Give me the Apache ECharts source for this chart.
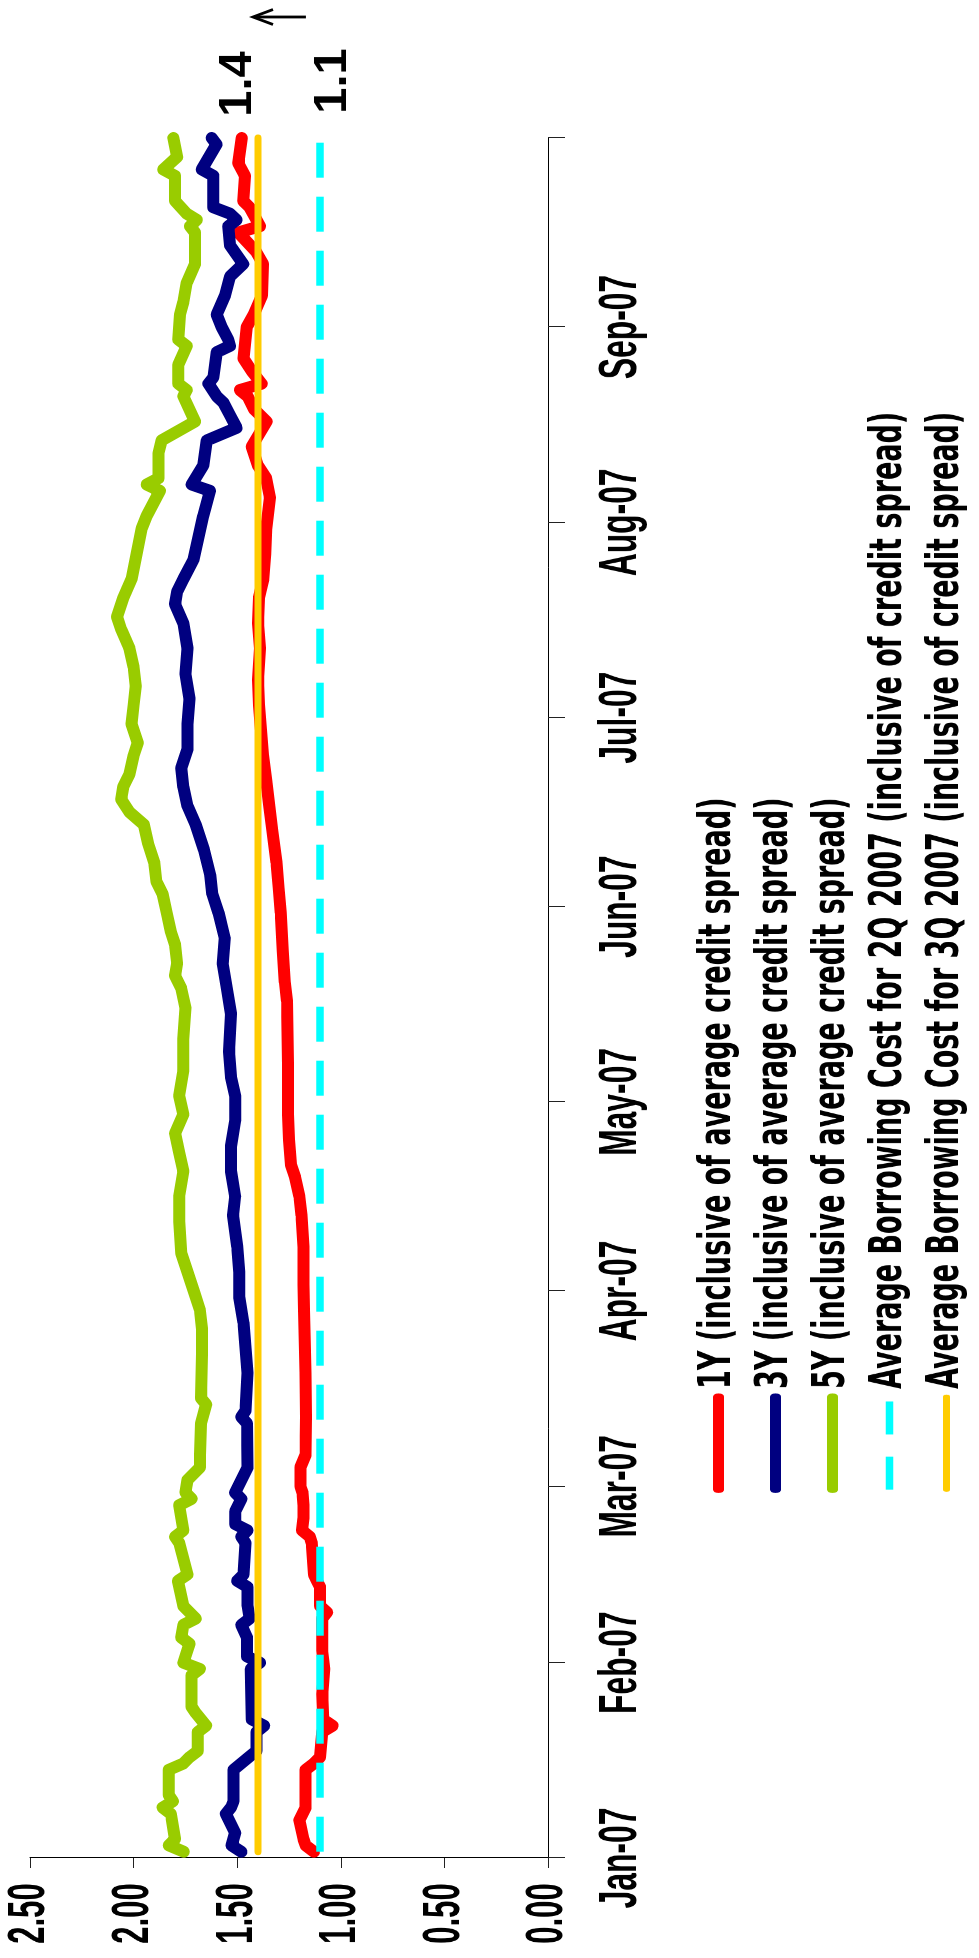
<!DOCTYPE html>
<html>
<head>
<meta charset="utf-8">
<script src="https://cdn.jsdelivr.net/npm/echarts@6/dist/echarts.min.js"></script>
<style>
  html, body { margin: 0; padding: 0; background: #fff; width: 979px; height: 1958px; overflow: hidden; }
  /* Both layers are laid out landscape and turned a quarter turn counter-clockwise.
     The text layer is laid out wider and squeezed back, which gives its narrow lettering. */
  .layer { position: absolute; left: 0; top: 0; height: 979px; transform-origin: 0 0; }
  #plot { width: 1958px; transform: translate(0, 1958px) rotate(-90deg); }
  #text { width: 3264px; transform: translate(0, 1958px) rotate(-90deg) scaleX(0.59988); }
</style>
</head>
<body>
<div id="plot" class="layer"></div>
<div id="text" class="layer"></div>
<script>
// ---- data ----
const monthLabels = ['Jan-07', 'Feb-07', 'Mar-07', 'Apr-07', 'May-07', 'Jun-07', 'Jul-07', 'Aug-07', 'Sep-07'];
const axisStart = '2007-01-01';
const axisEnd = '2007-10-01';
const valueMin = 0, valueMax = 2.5, valueStep = 0.5;

const seriesNames = [
  '1Y (inclusive of average credit spread)',
  '3Y (inclusive of average credit spread)',
  '5Y (inclusive of average credit spread)',
  'Average Borrowing Cost for 2Q 2007 (inclusive of credit spread)',
  'Average Borrowing Cost for 3Q 2007 (inclusive of credit spread)'
];

const rate1Y = [
  ['2007-01-02', 1.13], ['2007-01-03', 1.17], ['2007-01-04', 1.18], ['2007-01-07', 1.20], ['2007-01-09', 1.17],
  ['2007-01-15', 1.17], ['2007-01-16', 1.13], ['2007-01-17', 1.10], ['2007-01-21', 1.09], ['2007-01-22', 1.04],
  ['2007-01-23', 1.085], ['2007-01-27', 1.09], ['2007-01-31', 1.08], ['2007-02-03', 1.09], ['2007-02-08', 1.09],
  ['2007-02-09', 1.066], ['2007-02-10', 1.10], ['2007-02-13', 1.10], ['2007-02-14', 1.115], ['2007-02-15', 1.13],
  ['2007-02-20', 1.14], ['2007-02-21', 1.15], ['2007-02-22', 1.187], ['2007-02-24', 1.18], ['2007-02-26', 1.18],
  ['2007-02-28', 1.185], ['2007-03-01', 1.195], ['2007-03-04', 1.195], ['2007-03-06', 1.17], ['2007-03-12', 1.168],
  ['2007-03-19', 1.17], ['2007-03-29', 1.178], ['2007-04-02', 1.18], ['2007-04-08', 1.18], ['2007-04-13', 1.19],
  ['2007-04-16', 1.20], ['2007-04-19', 1.22], ['2007-04-21', 1.24], ['2007-04-25', 1.25], ['2007-04-29', 1.255],
  ['2007-05-07', 1.255], ['2007-05-17', 1.26], ['2007-05-20', 1.27], ['2007-05-25', 1.28], ['2007-05-31', 1.29],
  ['2007-06-04', 1.30], ['2007-06-08', 1.31], ['2007-06-13', 1.33], ['2007-06-17', 1.345], ['2007-06-21', 1.36],
  ['2007-06-25', 1.375], ['2007-06-29', 1.385], ['2007-07-03', 1.395], ['2007-07-07', 1.40], ['2007-07-12', 1.39],
  ['2007-07-16', 1.40], ['2007-07-20', 1.395], ['2007-07-23', 1.374], ['2007-07-27', 1.365], ['2007-07-31', 1.36],
  ['2007-08-05', 1.342], ['2007-08-08', 1.36], ['2007-08-10', 1.40], ['2007-08-13', 1.43], ['2007-08-17', 1.358],
  ['2007-08-19', 1.42], ['2007-08-21', 1.45], ['2007-08-22', 1.487], ['2007-08-23', 1.382], ['2007-08-25', 1.43],
  ['2007-08-27', 1.47], ['2007-09-01', 1.454], ['2007-09-03', 1.42], ['2007-09-06', 1.38], ['2007-09-11', 1.375],
  ['2007-09-13', 1.41], ['2007-09-16', 1.495], ['2007-09-17', 1.39], ['2007-09-20', 1.44], ['2007-09-21', 1.471],
  ['2007-09-25', 1.462], ['2007-09-27', 1.495], ['2007-10-01', 1.478]
];

const rate3Y = [
  ['2007-01-02', 1.48], ['2007-01-03', 1.527], ['2007-01-05', 1.51], ['2007-01-08', 1.555], ['2007-01-09', 1.53],
  ['2007-01-10', 1.518], ['2007-01-15', 1.518], ['2007-01-17', 1.444], ['2007-01-18', 1.407], ['2007-01-21', 1.407],
  ['2007-01-22', 1.37], ['2007-01-23', 1.43], ['2007-01-31', 1.435], ['2007-02-01', 1.39], ['2007-02-02', 1.453],
  ['2007-02-05', 1.453], ['2007-02-07', 1.48], ['2007-02-08', 1.44], ['2007-02-10', 1.45], ['2007-02-13', 1.45],
  ['2007-02-14', 1.50], ['2007-02-15', 1.47], ['2007-02-20', 1.46], ['2007-02-21', 1.48], ['2007-02-22', 1.45],
  ['2007-02-23', 1.51], ['2007-02-25', 1.51], ['2007-02-27', 1.48], ['2007-02-28', 1.51], ['2007-03-02', 1.48],
  ['2007-03-04', 1.45], ['2007-03-11', 1.453], ['2007-03-12', 1.48], ['2007-03-13', 1.46], ['2007-03-19', 1.45],
  ['2007-03-27', 1.47], ['2007-03-31', 1.49], ['2007-04-04', 1.49], ['2007-04-08', 1.50], ['2007-04-13', 1.52],
  ['2007-04-16', 1.51], ['2007-04-20', 1.53], ['2007-04-24', 1.53], ['2007-04-28', 1.51], ['2007-05-02', 1.51],
  ['2007-05-05', 1.53], ['2007-05-09', 1.54], ['2007-05-15', 1.53], ['2007-05-19', 1.55], ['2007-05-23', 1.57],
  ['2007-05-27', 1.56], ['2007-05-31', 1.59], ['2007-06-03', 1.62], ['2007-06-06', 1.63], ['2007-06-10', 1.66],
  ['2007-06-14', 1.70], ['2007-06-17', 1.74], ['2007-06-20', 1.76], ['2007-06-23', 1.77], ['2007-06-26', 1.74],
  ['2007-06-30', 1.74], ['2007-07-04', 1.73], ['2007-07-08', 1.75], ['2007-07-12', 1.74], ['2007-07-16', 1.76],
  ['2007-07-19', 1.80], ['2007-07-21', 1.79], ['2007-07-23', 1.76], ['2007-07-26', 1.712], ['2007-08-02', 1.664],
  ['2007-08-06', 1.631], ['2007-08-07', 1.72], ['2007-08-10', 1.664], ['2007-08-14', 1.647], ['2007-08-16', 1.503],
  ['2007-08-18', 1.535], ['2007-08-20', 1.567], ['2007-08-21', 1.599], ['2007-08-23', 1.639], ['2007-08-24', 1.615],
  ['2007-08-28', 1.599], ['2007-08-29', 1.535], ['2007-08-30', 1.543], ['2007-09-01', 1.575], ['2007-09-03', 1.599],
  ['2007-09-06', 1.559], ['2007-09-09', 1.535], ['2007-09-11', 1.471], ['2007-09-14', 1.535], ['2007-09-17', 1.543],
  ['2007-09-18', 1.503], ['2007-09-19', 1.535], ['2007-09-20', 1.615], ['2007-09-25', 1.615], ['2007-09-26', 1.671],
  ['2007-09-30', 1.60], ['2007-10-01', 1.623]
];

const rate5Y = [
  ['2007-01-02', 1.758], ['2007-01-03', 1.83], ['2007-01-04', 1.80], ['2007-01-08', 1.82], ['2007-01-09', 1.86],
  ['2007-01-10', 1.81], ['2007-01-11', 1.83], ['2007-01-15', 1.83], ['2007-01-16', 1.76], ['2007-01-17', 1.73],
  ['2007-01-18', 1.69], ['2007-01-21', 1.69], ['2007-01-22', 1.65], ['2007-01-24', 1.70], ['2007-01-25', 1.72],
  ['2007-01-30', 1.72], ['2007-01-31', 1.68], ['2007-02-01', 1.76], ['2007-02-04', 1.73], ['2007-02-05', 1.77],
  ['2007-02-07', 1.76], ['2007-02-08', 1.70], ['2007-02-10', 1.76], ['2007-02-14', 1.786], ['2007-02-15', 1.74],
  ['2007-02-20', 1.78], ['2007-02-21', 1.80], ['2007-02-22', 1.76], ['2007-02-26', 1.78], ['2007-02-27', 1.72],
  ['2007-02-28', 1.75], ['2007-03-02', 1.74], ['2007-03-04', 1.68], ['2007-03-06', 1.68], ['2007-03-11', 1.675],
  ['2007-03-14', 1.65], ['2007-03-15', 1.675], ['2007-03-22', 1.67], ['2007-03-26', 1.67], ['2007-03-29', 1.68],
  ['2007-04-01', 1.71], ['2007-04-04', 1.74], ['2007-04-07', 1.77], ['2007-04-12', 1.78], ['2007-04-16', 1.78],
  ['2007-04-20', 1.76], ['2007-04-23', 1.78], ['2007-04-26', 1.80], ['2007-04-29', 1.76], ['2007-05-02', 1.78],
  ['2007-05-06', 1.76], ['2007-05-11', 1.76], ['2007-05-16', 1.75], ['2007-05-19', 1.77], ['2007-05-21', 1.80],
  ['2007-05-23', 1.79], ['2007-05-26', 1.80], ['2007-05-28', 1.82], ['2007-05-31', 1.84], ['2007-06-03', 1.86],
  ['2007-06-05', 1.89], ['2007-06-08', 1.90], ['2007-06-11', 1.93], ['2007-06-14', 1.95], ['2007-06-16', 2.02],
  ['2007-06-18', 2.06], ['2007-06-20', 2.05], ['2007-06-22', 2.02], ['2007-06-25', 2.00], ['2007-06-27', 1.98],
  ['2007-06-30', 2.01], ['2007-07-03', 2.00], ['2007-07-06', 1.99], ['2007-07-09', 2.00], ['2007-07-12', 2.02],
  ['2007-07-15', 2.06], ['2007-07-17', 2.08], ['2007-07-20', 2.05], ['2007-07-23', 2.01], ['2007-07-27', 1.985],
  ['2007-07-31', 1.961], ['2007-08-02', 1.937], ['2007-08-06', 1.873], ['2007-08-07', 1.937], ['2007-08-08', 1.88],
  ['2007-08-12', 1.88], ['2007-08-14', 1.865], ['2007-08-17', 1.704], ['2007-08-21', 1.76], ['2007-08-22', 1.744],
  ['2007-08-23', 1.784], ['2007-08-26', 1.784], ['2007-08-29', 1.744], ['2007-08-30', 1.784], ['2007-09-03', 1.776],
  ['2007-09-05', 1.76], ['2007-09-08', 1.744], ['2007-09-11', 1.704], ['2007-09-16', 1.704], ['2007-09-17', 1.728],
  ['2007-09-18', 1.695], ['2007-09-19', 1.744], ['2007-09-21', 1.80], ['2007-09-25', 1.80], ['2007-09-26', 1.857],
  ['2007-09-28', 1.79], ['2007-10-01', 1.808]
];

const cost2Q = 1.1;
const cost3Q = 1.4;
const costSpan = ['2007-01-02', '2007-10-01'];

const colors = ['#FF0000', '#000080', '#99CC00', '#00FFFF', '#FFCC00'];

// ---- daily category axis ----
const days = [];
for (let t = Date.parse(axisStart + 'T00:00:00Z'); t <= Date.parse(axisEnd + 'T00:00:00Z'); t += 864e5) {
  days.push(new Date(t).toISOString().slice(0, 10));
}
const isMonthStart = (i, v) => v.slice(8) === '01';
const fontFamily = '"Liberation Sans", Arial, sans-serif';
const legendFont = '"DejaVu Sans", "Liberation Sans", sans-serif';

// landscape layout of the plot area (unsqueezed pixels)
const plotW = 1958, plotLeft = 100, plotRight = 138, plotTop = 30, plotBottom = 431;
const squeeze = 1958 / 3264;   // horizontal squeeze of the text layer

// ---- plot layer: axes lines, ticks and the five series ----
function lineSeries(i, data, width, dash) {
  return {
    name: seriesNames[i], type: 'line', data, symbol: 'none', showSymbol: false, silent: true,
    lineStyle: { color: colors[i], width, type: dash || 'solid', cap: dash ? 'butt' : 'round', join: 'round' },
    itemStyle: { color: colors[i] }
  };
}

const plot = echarts.init(document.getElementById('plot'));
plot.setOption({
  animation: false,
  backgroundColor: '#fff',
  grid: { left: plotLeft, right: plotRight, top: plotTop, bottom: plotBottom },
  xAxis: {
    type: 'category', data: days, boundaryGap: false,
    axisLine: { show: true, lineStyle: { color: '#000', width: 1 } },
    axisTick: { show: true, length: 17, interval: isMonthStart, lineStyle: { color: '#222', width: 1 } },
    axisLabel: { show: false },
    splitLine: { show: false }
  },
  yAxis: {
    type: 'value', min: valueMin, max: valueMax, interval: valueStep,
    axisLine: { show: true, lineStyle: { color: '#000', width: 1 } },
    axisTick: { show: true, length: 10, lineStyle: { color: '#222', width: 1 } },
    axisLabel: { show: false },
    splitLine: { show: false }
  },
  series: [
    lineSeries(0, rate1Y, 12),
    lineSeries(1, rate3Y, 12),
    lineSeries(2, rate5Y, 12),
    lineSeries(3, costSpan.map(d => [d, cost2Q]), 7.5, [35, 19]),
    lineSeries(4, costSpan.map(d => [d, cost3Q]), 7)
  ]
});

// value labels and arrow past the right end of the two borrowing-cost lines
const lastIdx = days.length - 1;
const end3Q = plot.convertToPixel({ xAxisIndex: 0, yAxisIndex: 0 }, [lastIdx, cost3Q]);
const end2Q = plot.convertToPixel({ xAxisIndex: 0, yAxisIndex: 0 }, [lastIdx, cost2Q]);
const labelStyle = { fontSize: 47, fontWeight: 'bold', fontFamily, fill: '#000', align: 'center', verticalAlign: 'middle' };
const arrowX = end3Q[0] + 121;
const tipY = end3Q[1] - 5;
plot.setOption({
  graphic: [
    { type: 'text', x: end3Q[0] + 54, y: end3Q[1] - 20, silent: true,
      style: Object.assign({ text: cost3Q.toFixed(1) }, labelStyle) },
    { type: 'text', x: end2Q[0] + 57, y: end2Q[1] + 13, silent: true,
      style: Object.assign({ text: cost2Q.toFixed(1) }, labelStyle) },
    { type: 'polyline', silent: true, shape: { points: [[arrowX, tipY + 53], [arrowX, tipY + 1]] },
      style: { stroke: '#000', lineWidth: 2.8, fill: null } },
    { type: 'polyline', silent: true, shape: { points: [[arrowX - 7.5, tipY + 20], [arrowX, tipY], [arrowX + 7.5, tipY + 20]] },
      style: { stroke: '#000', lineWidth: 2.8, fill: null } }
  ]
});

// ---- text layer: tick labels and legend in narrow lettering ----
const textW = 3264;
const legendWidths = [11, 11, 11, 7.5, 7];
const legendDash = [null, null, null, [55, 37], null];

const text = echarts.init(document.getElementById('text'));
text.setOption({
  animation: false,
  grid: { left: plotLeft / squeeze, right: plotRight / squeeze + (textW - plotW / squeeze), top: plotTop, bottom: plotBottom },
  xAxis: {
    type: 'category', data: days, boundaryGap: false,
    axisLine: { show: false }, axisTick: { show: false }, splitLine: { show: false },
    axisLabel: {
      interval: (i, v) => isMonthStart(i, v) && !!monthLabels[+v.slice(5, 7) - 1],
      formatter: v => monthLabels[+v.slice(5, 7) - 1] || '',
      fontSize: 53, fontWeight: 'bold', fontFamily, color: '#000', margin: 47
    }
  },
  yAxis: {
    type: 'value', min: valueMin, max: valueMax, interval: valueStep,
    axisLine: { show: false }, axisTick: { show: false }, splitLine: { show: false },
    axisLabel: { formatter: v => v.toFixed(2), fontSize: 52, fontWeight: 'bold', fontFamily, color: '#000', margin: 42 }
  },
  legend: {
    orient: 'vertical', left: 465 / squeeze, top: 690, padding: 0, itemGap: 0,
    itemWidth: 155, itemHeight: 12, selectedMode: false,
    textStyle: { fontSize: 45, fontWeight: 'bold', fontFamily: legendFont, color: '#000', lineHeight: 57, padding: [0, 0, 0, 8] },
    data: seriesNames.map((name, i) => ({
      name,
      itemStyle: { opacity: 0 },
      lineStyle: Object.assign({ width: legendWidths[i], opacity: 1, color: colors[i], cap: legendDash[i] ? 'butt' : 'round' },
        legendDash[i] ? { type: legendDash[i] } : { type: 'solid' })
    }))
  },
  // series entries carry the legend names; their marks are drawn on the plot layer
  series: seriesNames.map((name, i) => ({
    name, type: 'line', data: [], symbol: 'none', silent: true,
    lineStyle: { color: colors[i] }, itemStyle: { color: colors[i] }
  }))
});
</script>
</body>
</html>
